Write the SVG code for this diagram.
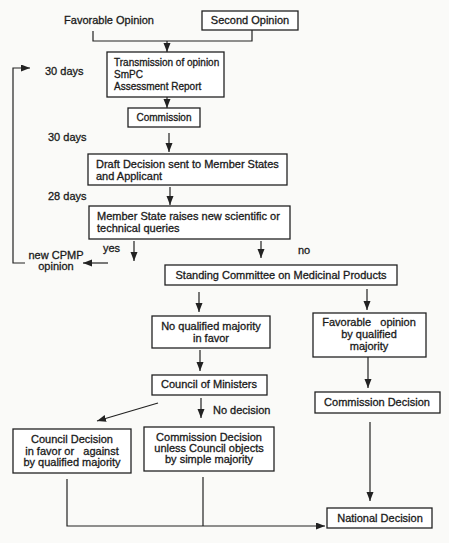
<svg xmlns="http://www.w3.org/2000/svg" width="449" height="543" viewBox="0 0 449 543">
<style>
text{font-family:"Liberation Sans",Arial,sans-serif;font-size:11px;fill:#1a1a1a;stroke:#1a1a1a;stroke-width:0.3;white-space:pre}
.c{text-anchor:middle}
.s{font-size:10px}
rect{fill:#fff;stroke:#222;stroke-width:1.3}
.ln{fill:none;stroke:#222;stroke-width:1.2}
</style>
<defs>
<marker id="ah" markerUnits="userSpaceOnUse" markerWidth="10" markerHeight="8" refX="9" refY="3.5" orient="auto">
<path d="M0,0 L9,3.5 L0,7 z" fill="#222"/>
</marker>
</defs>
<rect x="0" y="0" width="449" height="543" style="fill:#fafaf8;stroke:none"/>
<g id="connectors" class="ln">
<path d="M93,31 V41 H252 V30"/>
<path d="M167,41 V52" marker-end="url(#ah)"/>
<path d="M167,97 V108" marker-end="url(#ah)"/>
<path d="M169,133 V152" marker-end="url(#ah)"/>
<path d="M170,187 V205" marker-end="url(#ah)"/>
<path d="M134,241 V261" marker-end="url(#ah)"/>
<path d="M261,241 V258" marker-end="url(#ah)"/>
<path d="M108,263 H83" marker-end="url(#ah)"/>
<path d="M25,263 H13 V68 H30" marker-end="url(#ah)"/>
<path d="M199,292 V312" marker-end="url(#ah)"/>
<path d="M367,289 V310" marker-end="url(#ah)"/>
<path d="M200,350 V371" marker-end="url(#ah)"/>
<path d="M368,357 V388" marker-end="url(#ah)"/>
<path d="M158,403 L97,421" marker-end="url(#ah)"/>
<path d="M201,398 V418" marker-end="url(#ah)"/>
<path d="M370,422 V501" marker-end="url(#ah)"/>
<path d="M67,479 V526 H325" marker-end="url(#ah)"/>
<path d="M203,477 V526"/>
</g>
<g id="favorable-opinion"><text class="c" x="109" y="24">Favorable Opinion</text></g>
<g id="second-opinion"><rect x="202" y="11" width="96" height="19"/><text class="c" x="250" y="24">Second Opinion</text></g>
<g id="transmission"><rect x="107" y="52" width="117" height="45"/>
<text class="s" x="114" y="66">Transmission of opinion</text><text class="s" x="114" y="78">SmPC</text><text class="s" x="114" y="90">Assessment Report</text></g>
<g id="commission"><rect x="128" y="108" width="72" height="19"/><text class="c s" x="164" y="121">Commission</text></g>
<g id="days1"><text x="45" y="75">30 days</text></g>
<g id="days2"><text x="48" y="141">30 days</text></g>
<g id="days3"><text x="48" y="200">28 days</text></g>
<g id="draft-decision"><rect x="88" y="154" width="199" height="31"/><text x="96" y="168">Draft Decision sent to Member States</text><text x="96" y="180">and Applicant</text></g>
<g id="member-state"><rect x="89" y="206" width="201" height="33"/><text x="97" y="220">Member State raises new scientific or</text><text x="97" y="232">technical queries</text></g>
<g id="yes"><text x="103" y="252">yes</text></g>
<g id="no"><text x="298" y="254">no</text></g>
<g id="new-cpmp"><text class="c" x="56" y="259">new CPMP</text><text class="c" x="56" y="270">opinion</text></g>
<g id="standing-committee"><rect x="165" y="265" width="232" height="20"/><text class="c" x="281" y="279">Standing Committee on Medicinal Products</text></g>
<g id="no-qualified"><rect x="152" y="316" width="118" height="32"/><text class="c" x="211" y="330">No qualified majority</text><text class="c" x="211" y="342">in favor</text></g>
<g id="favorable-qualified"><rect x="313" y="313" width="113" height="44"/><text class="c" x="369" y="326">Favorable   opinion</text><text class="c" x="369" y="338">by qualified</text><text class="c" x="369" y="350">majority</text></g>
<g id="council-ministers"><rect x="152" y="375" width="115" height="20"/><text class="c" x="209" y="388">Council of Ministers</text></g>
<g id="commission-decision-right"><rect x="315" y="392" width="125" height="21"/><text class="c" x="377" y="406">Commission Decision</text></g>
<g id="no-decision"><text x="213" y="414">No decision</text></g>
<g id="council-decision"><rect x="13" y="429" width="118" height="44"/><text class="c" x="72" y="443">Council Decision</text><text class="c" x="72" y="455">in favor or   against</text><text class="c" x="72" y="466">by qualified majority</text></g>
<g id="commission-decision-unless"><rect x="144" y="427" width="130" height="44"/><text class="c" x="209" y="441">Commission Decision</text><text class="c" x="209" y="452">unless Council objects</text><text class="c" x="209" y="463">by simple majority</text></g>
<g id="national-decision"><rect x="327" y="508" width="105" height="20"/><text class="c" x="380" y="522">National Decision</text></g>
</svg>
